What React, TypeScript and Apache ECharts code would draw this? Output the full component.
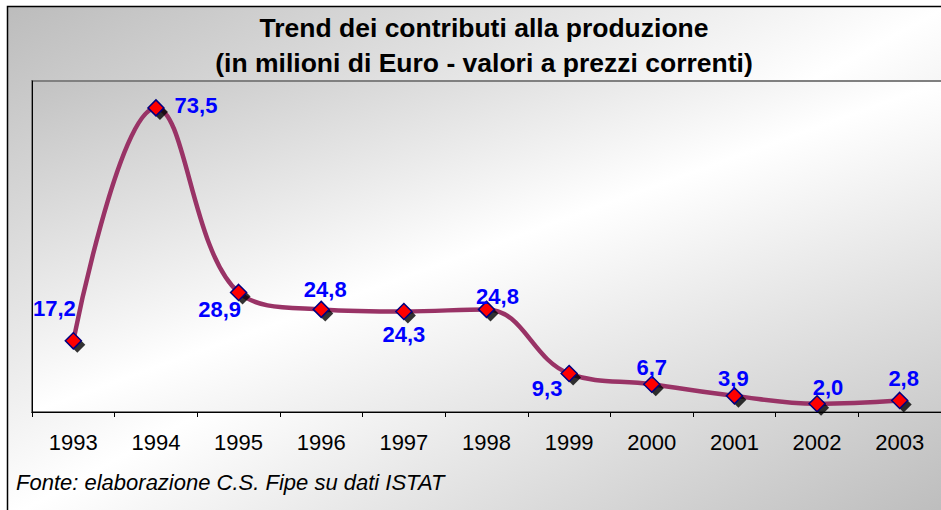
import React, { useEffect, useRef } from "react";
import * as echarts from "echarts";

const years = ["1993", "1994", "1995", "1996", "1997", "1998", "1999", "2000", "2001", "2002", "2003"];
const values = [17.2, 73.5, 28.9, 24.8, 24.3, 24.8, 9.3, 6.7, 3.9, 2.0, 2.8];
const titleText = "Trend dei contributi alla produzione\n(in milioni di Euro - valori a prezzi correnti)";
const sourceText = "Fonte: elaborazione C.S. Fipe su dati ISTAT";

// label placement (pixel offsets from each marker centre)
const labelOffsets: [number, number][] = [
  [-19, -32], [40, -2], [-19, 17], [4, -20], [0, 23], [11, -13],
  [-22, 15], [0, -17], [-1, -17], [11, -16], [4, -22],
];

const FONT = "'Liberation Sans', Arial, Helvetica, sans-serif";

export default function App() {
  const ref = useRef<HTMLDivElement>(null);
  useEffect(() => {
    if (!ref.current) return;
    const chart = echarts.init(ref.current, undefined, { renderer: "svg" });
    const fmt = (v: number) => v.toFixed(1).replace(".", ",");
    const diag = (c0: string, c1: string) =>
      new echarts.graphic.LinearGradient(0, 0, 1, 1, [
        { offset: 0, color: c0 },
        { offset: 0.5, color: "#ffffff" },
        { offset: 1, color: c1 },
      ]);
    chart.setOption({
      animation: false,
      title: {
        text: titleText,
        left: 484,
        top: 10,
        textAlign: "center",
        padding: 0,
        textStyle: { fontFamily: FONT, fontSize: 26.5, fontWeight: "bold", color: "#000", lineHeight: 35 },
      },
      graphic: [
        {
          type: "rect",
          z: -100,
          shape: { x: 7.5, y: 6.5, width: 940, height: 512 },
          style: { fill: diag("#bcbcbc", "#bcbcbc"), stroke: "#000", lineWidth: 1.5 },
        },
        {
          type: "rect",
          z: -90,
          shape: { x: 32, y: 81, width: 912, height: 331 },
          style: { fill: diag("#c2c2c2", "#cccccc"), stroke: "#808080", lineWidth: 2 },
        },
        {
          type: "text",
          z: 10,
          x: 16,
          y: 482,
          style: {
            text: sourceText,
            fontFamily: FONT,
            fontSize: 22,
            fontStyle: "italic",
            fill: "#000",
            verticalAlign: "middle",
            align: "left",
          },
        },
      ],
      grid: { left: 32, top: 81, width: 909, height: 331, show: false },
      xAxis: {
        type: "category",
        data: years,
        boundaryGap: true,
        axisLine: { show: true, lineStyle: { color: "#000", width: 1 } },
        axisTick: { show: true, length: 5, lineStyle: { color: "#000", width: 1 } },
        axisLabel: { fontFamily: FONT, fontSize: 22, color: "#000", margin: 19 },
        splitLine: { show: false },
        z: 5,
      },
      yAxis: {
        type: "value",
        min: 0,
        max: 80,
        axisLine: { show: true, lineStyle: { color: "#000", width: 1 } },
        axisTick: { show: false },
        axisLabel: { show: false },
        splitLine: { show: false },
        z: 5,
      },
      series: [
        {
          type: "line",
          data: values,
          smooth: 0.4,
          symbol: "none",
          z: 2,
          lineStyle: { color: "#993366", width: 4.5 },
        },
        {
          type: "scatter",
          data: values,
          symbol: "diamond",
          symbolSize: 16,
          symbolOffset: [4, 4],
          z: 3,
          silent: true,
          itemStyle: { color: "#000", borderWidth: 0 },
        },
        {
          type: "scatter",
          symbol: "diamond",
          symbolSize: 16,
          z: 4,
          itemStyle: { color: "#ff0000", borderColor: "#000080", borderWidth: 1.5, opacity: 1 },
          label: {
            show: true,
            position: "inside",
            fontFamily: FONT,
            fontSize: 22,
            fontWeight: "bold",
            color: "#0000ff",
            formatter: (p: any) => fmt(values[p.dataIndex]),
          },
          data: values.map((v, i) => ({ value: v, label: { offset: labelOffsets[i] } })),
        },
      ],
    });
    return () => chart.dispose();
  }, []);
  return <div ref={ref} style={{ position: "absolute", left: 0, top: 0, width: 941, height: 510 }} />;
}
